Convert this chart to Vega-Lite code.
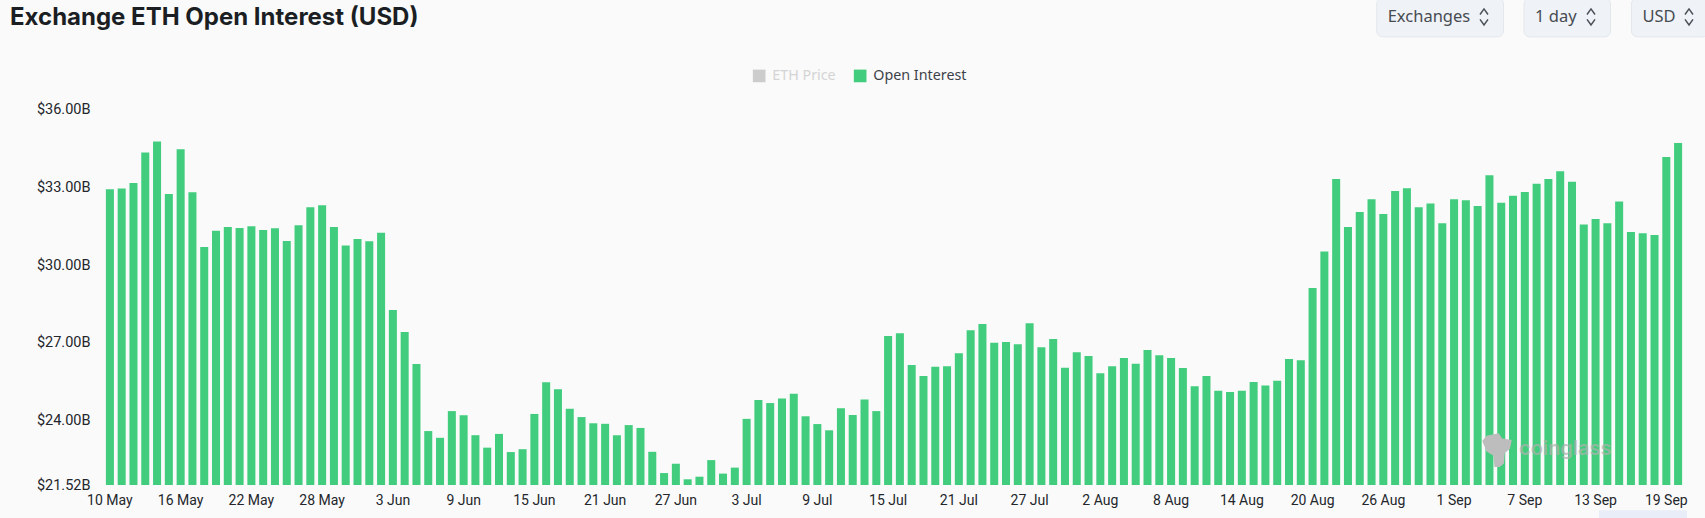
{
  "$schema": "https://vega.github.io/schema/vega-lite/v6.json",
  "description": "Daily exchange ETH open interest in USD, 10 May to 20 Sep.",
  "background": "#fafafa",
  "autosize": {"type": "none"},
  "padding": {"left": 104, "top": 109.5, "right": 21, "bottom": 33},
  "width": 1580,
  "height": 375.5,
  "config": {"view": {"stroke": null}},
  "title": {
    "text": "Exchange ETH Open Interest (USD)",
    "anchor": "start",
    "frame": "group",
    "dx": -94,
    "offset": -52,
    "baseline": "alphabetic",
    "font": "Inter",
    "fontSize": 24,
    "fontWeight": 700,
    "color": "#1b1f24"
  },
  "datasets": {
    "oi": [
      {"date":"10 May","series":"Open Interest","oi":32.92},{"date":"11 May","series":"Open Interest","oi":32.95},{"date":"12 May","series":"Open Interest","oi":33.17},{"date":"13 May","series":"Open Interest","oi":34.34},{"date":"14 May","series":"Open Interest","oi":34.77},{"date":"15 May","series":"Open Interest","oi":32.74},{"date":"16 May","series":"Open Interest","oi":34.47},{"date":"17 May","series":"Open Interest","oi":32.81},{"date":"18 May","series":"Open Interest","oi":30.70},{"date":"19 May","series":"Open Interest","oi":31.32},{"date":"20 May","series":"Open Interest","oi":31.47},{"date":"21 May","series":"Open Interest","oi":31.43},{"date":"22 May","series":"Open Interest","oi":31.50},{"date":"23 May","series":"Open Interest","oi":31.35},{"date":"24 May","series":"Open Interest","oi":31.42},{"date":"25 May","series":"Open Interest","oi":30.93},{"date":"26 May","series":"Open Interest","oi":31.54},{"date":"27 May","series":"Open Interest","oi":32.23},{"date":"28 May","series":"Open Interest","oi":32.31},{"date":"29 May","series":"Open Interest","oi":31.47},{"date":"30 May","series":"Open Interest","oi":30.76},{"date":"31 May","series":"Open Interest","oi":31.01},
      {"date":"1 Jun","series":"Open Interest","oi":30.92},{"date":"2 Jun","series":"Open Interest","oi":31.25},{"date":"3 Jun","series":"Open Interest","oi":28.27},{"date":"4 Jun","series":"Open Interest","oi":27.42},{"date":"5 Jun","series":"Open Interest","oi":26.19},{"date":"6 Jun","series":"Open Interest","oi":23.60},{"date":"7 Jun","series":"Open Interest","oi":23.34},{"date":"8 Jun","series":"Open Interest","oi":24.37},{"date":"9 Jun","series":"Open Interest","oi":24.21},{"date":"10 Jun","series":"Open Interest","oi":23.44},{"date":"11 Jun","series":"Open Interest","oi":22.96},{"date":"12 Jun","series":"Open Interest","oi":23.49},{"date":"13 Jun","series":"Open Interest","oi":22.79},{"date":"14 Jun","series":"Open Interest","oi":22.90},{"date":"15 Jun","series":"Open Interest","oi":24.26},{"date":"16 Jun","series":"Open Interest","oi":25.48},{"date":"17 Jun","series":"Open Interest","oi":25.21},{"date":"18 Jun","series":"Open Interest","oi":24.46},{"date":"19 Jun","series":"Open Interest","oi":24.14},{"date":"20 Jun","series":"Open Interest","oi":23.90},{"date":"21 Jun","series":"Open Interest","oi":23.88},{"date":"22 Jun","series":"Open Interest","oi":23.44},{"date":"23 Jun","series":"Open Interest","oi":23.83},{"date":"24 Jun","series":"Open Interest","oi":23.72},{"date":"25 Jun","series":"Open Interest","oi":22.80},{"date":"26 Jun","series":"Open Interest","oi":21.98},{"date":"27 Jun","series":"Open Interest","oi":22.34},{"date":"28 Jun","series":"Open Interest","oi":21.74},{"date":"29 Jun","series":"Open Interest","oi":21.84},{"date":"30 Jun","series":"Open Interest","oi":22.48},
      {"date":"1 Jul","series":"Open Interest","oi":21.96},{"date":"2 Jul","series":"Open Interest","oi":22.19},{"date":"3 Jul","series":"Open Interest","oi":24.07},{"date":"4 Jul","series":"Open Interest","oi":24.80},{"date":"5 Jul","series":"Open Interest","oi":24.68},{"date":"6 Jul","series":"Open Interest","oi":24.86},{"date":"7 Jul","series":"Open Interest","oi":25.04},{"date":"8 Jul","series":"Open Interest","oi":24.17},{"date":"9 Jul","series":"Open Interest","oi":23.87},{"date":"10 Jul","series":"Open Interest","oi":23.63},{"date":"11 Jul","series":"Open Interest","oi":24.48},{"date":"12 Jul","series":"Open Interest","oi":24.22},{"date":"13 Jul","series":"Open Interest","oi":24.82},{"date":"14 Jul","series":"Open Interest","oi":24.37},{"date":"15 Jul","series":"Open Interest","oi":27.27},{"date":"16 Jul","series":"Open Interest","oi":27.37},{"date":"17 Jul","series":"Open Interest","oi":26.15},{"date":"18 Jul","series":"Open Interest","oi":25.72},{"date":"19 Jul","series":"Open Interest","oi":26.08},{"date":"20 Jul","series":"Open Interest","oi":26.10},{"date":"21 Jul","series":"Open Interest","oi":26.60},{"date":"22 Jul","series":"Open Interest","oi":27.49},{"date":"23 Jul","series":"Open Interest","oi":27.73},{"date":"24 Jul","series":"Open Interest","oi":27.01},{"date":"25 Jul","series":"Open Interest","oi":27.03},{"date":"26 Jul","series":"Open Interest","oi":26.95},{"date":"27 Jul","series":"Open Interest","oi":27.76},{"date":"28 Jul","series":"Open Interest","oi":26.83},{"date":"29 Jul","series":"Open Interest","oi":27.15},{"date":"30 Jul","series":"Open Interest","oi":26.04},{"date":"31 Jul","series":"Open Interest","oi":26.64},
      {"date":"1 Aug","series":"Open Interest","oi":26.49},{"date":"2 Aug","series":"Open Interest","oi":25.83},{"date":"3 Aug","series":"Open Interest","oi":26.10},{"date":"4 Aug","series":"Open Interest","oi":26.42},{"date":"5 Aug","series":"Open Interest","oi":26.20},{"date":"6 Aug","series":"Open Interest","oi":26.73},{"date":"7 Aug","series":"Open Interest","oi":26.52},{"date":"8 Aug","series":"Open Interest","oi":26.42},{"date":"9 Aug","series":"Open Interest","oi":26.03},{"date":"10 Aug","series":"Open Interest","oi":25.33},{"date":"11 Aug","series":"Open Interest","oi":25.72},{"date":"12 Aug","series":"Open Interest","oi":25.15},{"date":"13 Aug","series":"Open Interest","oi":25.11},{"date":"14 Aug","series":"Open Interest","oi":25.15},{"date":"15 Aug","series":"Open Interest","oi":25.49},{"date":"16 Aug","series":"Open Interest","oi":25.36},{"date":"17 Aug","series":"Open Interest","oi":25.54},{"date":"18 Aug","series":"Open Interest","oi":26.38},{"date":"19 Aug","series":"Open Interest","oi":26.33},{"date":"20 Aug","series":"Open Interest","oi":29.12},{"date":"21 Aug","series":"Open Interest","oi":30.52},{"date":"22 Aug","series":"Open Interest","oi":33.32},{"date":"23 Aug","series":"Open Interest","oi":31.47},{"date":"24 Aug","series":"Open Interest","oi":32.05},{"date":"25 Aug","series":"Open Interest","oi":32.54},{"date":"26 Aug","series":"Open Interest","oi":31.97},{"date":"27 Aug","series":"Open Interest","oi":32.86},{"date":"28 Aug","series":"Open Interest","oi":32.96},{"date":"29 Aug","series":"Open Interest","oi":32.23},{"date":"30 Aug","series":"Open Interest","oi":32.38},{"date":"31 Aug","series":"Open Interest","oi":31.61},
      {"date":"1 Sep","series":"Open Interest","oi":32.54},{"date":"2 Sep","series":"Open Interest","oi":32.50},{"date":"3 Sep","series":"Open Interest","oi":32.28},{"date":"4 Sep","series":"Open Interest","oi":33.46},{"date":"5 Sep","series":"Open Interest","oi":32.40},{"date":"6 Sep","series":"Open Interest","oi":32.67},{"date":"7 Sep","series":"Open Interest","oi":32.82},{"date":"8 Sep","series":"Open Interest","oi":33.14},{"date":"9 Sep","series":"Open Interest","oi":33.32},{"date":"10 Sep","series":"Open Interest","oi":33.62},{"date":"11 Sep","series":"Open Interest","oi":33.21},{"date":"12 Sep","series":"Open Interest","oi":31.57},{"date":"13 Sep","series":"Open Interest","oi":31.78},{"date":"14 Sep","series":"Open Interest","oi":31.61},{"date":"15 Sep","series":"Open Interest","oi":32.45},{"date":"16 Sep","series":"Open Interest","oi":31.28},{"date":"17 Sep","series":"Open Interest","oi":31.23},{"date":"18 Sep","series":"Open Interest","oi":31.16},{"date":"19 Sep","series":"Open Interest","oi":34.17},{"date":"20 Sep","series":"Open Interest","oi":34.71}
    ],
    "controls": [
      {"control":"Exchanges","start":0,"end":1},
      {"control":"1 day","start":2,"end":3},
      {"control":"USD","start":4,"end":5}
    ],
    "watermark": [
      {"name":"coinglass","start":8}
    ],
    "logo": [
      {"name":"logo","start":9}
    ],
    "strip": [
      {"name":"strip","start":6,"end":7}
    ]
  },
  "resolve": {"scale": {"x": "independent"}, "axis": {"x": "independent"}},
  "layer": [
    {
      "data": {"name": "oi"},
      "mark": {"type": "bar"},
      "encoding": {
        "x": {
          "field": "date",
          "type": "ordinal",
          "sort": null,
          "title": null,
          "scale": {"paddingInner": 0.32, "paddingOuter": 0.16},
          "axis": {
            "values": ["10 May","16 May","22 May","28 May","3 Jun","9 Jun","15 Jun","21 Jun","27 Jun","3 Jul","9 Jul","15 Jul","21 Jul","27 Jul","2 Aug","8 Aug","14 Aug","20 Aug","26 Aug","1 Sep","7 Sep","13 Sep","19 Sep"],
            "labelAngle": 0,
            "labelFont": "Roboto",
            "labelFontSize": 14,
            "labelColor": "#23262b",
            "labelPadding": 8,
            "labelOverlap": false,
            "ticks": false,
            "domain": false,
            "grid": false
          }
        },
        "y": {
          "field": "oi",
          "type": "quantitative",
          "title": null,
          "scale": {"domain": [21.52, 36], "zero": false, "nice": false},
          "axis": {
            "values": [21.52, 24, 27, 30, 33, 36],
            "labelExpr": "'$' + format(datum.value, '.2f') + 'B'",
            "labelFont": "Roboto",
            "labelFontSize": 14.5,
            "labelColor": "#23262b",
            "labelPadding": 14,
            "labelOverlap": false,
            "ticks": false,
            "domain": false,
            "grid": false
          }
        },
        "y2": {"datum": 21.52},
        "color": {
          "field": "series",
          "type": "nominal",
          "scale": {"domain": ["ETH Price", "Open Interest"], "range": ["#cccccc", "#41cd7d"]},
          "legend": {
            "title": null,
            "orient": "none",
            "legendX": 648,
            "legendY": -41,
            "direction": "horizontal",
            "columns": 2,
            "padding": 0,
            "columnPadding": 17,
            "symbolType": "square",
            "symbolSize": 160,
            "symbolStrokeWidth": 0,
            "labelFont": "Noto Sans",
            "labelFontSize": 14.3,
            "labelOffset": 6,
            "encode": {
              "labels": {"update": {"fill": {"signal": "datum.value === 'ETH Price' ? '#d4d4d4' : '#3d4249'"}}}
            }
          }
        }
      }
    },
    {
      "encoding": {
        "x": {
          "field": "start",
          "type": "quantitative",
          "title": null,
          "axis": null,
          "scale": {
            "domain": [0, 1, 2, 3, 4, 5, 6, 7, 8, 9],
            "range": [1272.7, 1399.5, 1420, 1506.5, 1527.5, 1604.5, 1495, 1583, 1415, 1393]
          }
        }
      },
      "layer": [
        {
          "data": {"name": "strip"},
          "mark": {"type": "rect", "fill": "#e9edf8"},
          "encoding": {
            "x2": {"field": "end"},
            "y": {"datum": 20.55},
            "y2": {"datum": 20.1}
          }
        },
        {
          "data": {"name": "controls"},
          "mark": {"type": "rect", "fill": "#eff2f6", "stroke": "#e4e8ec", "cornerRadius": 6},
          "encoding": {
            "x2": {"field": "end"},
            "y": {"datum": 40.3},
            "y2": {"datum": 38.8}
          }
        },
        {
          "data": {"name": "controls"},
          "mark": {"type": "text", "align": "left", "baseline": "middle", "dx": 11, "font": "Noto Sans", "fontSize": 16.5, "color": "#474c53"},
          "encoding": {
            "y": {"datum": 39.55},
            "text": {"field": "control"}
          }
        },
        {
          "data": {"name": "controls"},
          "mark": {"type": "point", "shape": "M-0.5,-0.3L0,-1L0.5,-0.3M-0.5,0.3L0,1L0.5,0.3", "size": 256, "filled": false, "stroke": "#4a5058", "strokeWidth": 1.5, "opacity": 1, "xOffset": -19.5},
          "encoding": {
            "x": {"field": "end", "type": "quantitative"},
            "y": {"datum": 39.57}
          }
        },
        {
          "data": {"name": "logo"},
          "mark": {"type": "point", "shape": "M-0.85,-0.55L-0.6,-0.85L0.1,-1L0.3,-0.7L0.85,-0.6L0.75,-0.1L0.45,0.15L0.4,0.75L0.15,0.95L-0.15,0.95L-0.2,0.3L-0.6,0.05Z", "size": 1200, "filled": true, "fill": "#bdbdbd", "opacity": 1, "stroke": null},
          "encoding": {
            "y": {"datum": 22.85}
          }
        },
        {
          "data": {"name": "watermark"},
          "mark": {"type": "text", "align": "left", "baseline": "middle", "font": "Inter", "fontSize": 20, "fontWeight": 600, "color": "#b0b0b0", "opacity": 0.7},
          "encoding": {
            "y": {"datum": 22.9},
            "text": {"field": "name"}
          }
        }
      ]
    }
  ]
}
